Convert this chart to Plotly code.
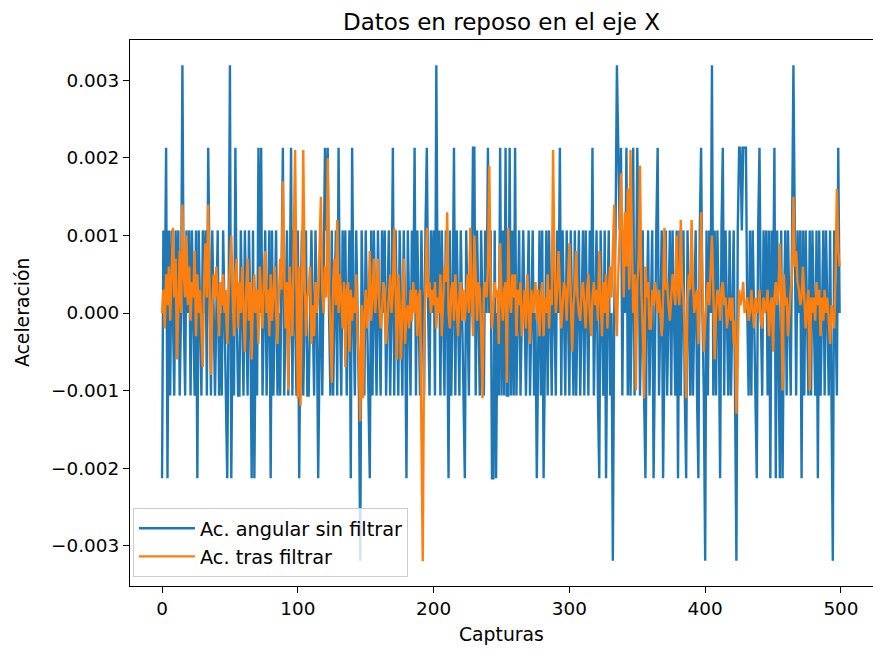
import plotly.graph_objects as go

TITLE = "Datos en reposo en el eje X"
X_LABEL = "Capturas"
Y_LABEL = "Aceleración"
NAME_RAW = "Ac. angular sin filtrar"
NAME_FILT = "Ac. tras filtrar"

# quantisation step of the raw sensor signal
RAW_STEP = 0.0010652
# raw signal, in sensor steps
raw_steps = [
    -2,1,0,2,-2,1,-1,1,0,-1,1,0,1,-1,0,3,0,-1,1,0,
    1,-1,1,0,-1,1,-2,1,0,-1,1,0,1,-1,2,0,-1,1,0,-1,
    0,1,-1,0,-1,1,0,-1,-2,0,3,-2,0,-1,2,0,-1,-1,1,0,
    -1,1,0,-1,1,0,-2,1,-2,0,-1,2,0,2,-1,0,1,-1,0,1,
    -2,1,-1,0,1,-1,0,-1,1,2,-1,0,1,-1,0,2,-1,1,0,-1,
    1,-2,0,1,-1,0,1,-1,-1,0,1,0,-1,1,0,-2,0,1,-1,1,
    2,1,2,0,-1,1,-1,0,1,-1,2,0,-1,1,0,1,-1,0,1,-2,
    2,0,-1,1,0,-1,-3,1,0,-1,1,0,-1,-2,1,-1,1,0,-1,1,
    0,-1,1,0,1,-1,0,1,-1,0,2,-1,1,0,-1,1,0,-1,1,0,
    -2,1,0,-1,1,0,2,-1,1,0,-1,1,0,-1,1,2,0,-1,1,0,
    1,-1,3,0,1,-1,1,0,-1,1,0,-2,1,-1,0,2,-1,1,0,-1,
    1,0,-1,-2,1,0,-1,1,0,2,2,-1,1,0,-1,1,0,-1,1,0,
    2,0,1,-2,-2,1,-2,0,-1,2,-1,1,-1,2,-1,-1,2,-1,1,-1,
    2,-1,0,1,-1,0,1,0,-1,0,1,-1,0,1,-1,0,-2,0,1,-1,
    1,-2,0,1,-1,1,0,-1,1,0,-1,1,0,2,-1,1,0,-1,1,0,
    -1,1,0,-1,1,-1,0,1,-1,0,1,-1,1,0,-1,1,0,2,-1,0,
    1,-1,-2,1,0,-1,1,-2,0,1,-1,0,-3,0,1,3,2,1,2,-1,
    1,0,2,-1,1,-1,0,2,-1,0,2,1,-1,0,1,-1,-2,0,1,-1,
    0,1,-2,0,1,2,-1,0,1,-2,0,1,-1,0,1,-1,1,0,-1,1,
    -2,1,-1,0,1,-1,-2,1,0,-1,1,-1,0,1,-1,-2,1,2,0,-1,
    -3,1,-1,1,0,3,-1,1,-1,1,0,-2,1,2,-1,1,0,-1,1,-1,
    0,1,-1,-3,1,2,2,1,2,2,2,0,-1,1,-1,1,0,-1,-2,1,
    2,0,-1,1,0,1,-1,1,-2,1,0,2,-2,1,-1,-2,1,-2,0,1,
    -1,1,0,-1,1,3,1,-1,1,0,1,-2,1,-1,1,0,-1,1,-1,1,
    0,-1,1,-2,1,-1,0,1,-1,1,0,-1,1,-1,-3,1,0,-1,2,0,
]

# filtered signal, in units of 1e-4
filt_e4 = [
    0,3,-2,5,1,6,-1,4,11,2,7,-6,3,8,0,14,5,2,10,1,
    6,-1,4,2,8,-3,5,0,3,-2,-7,4,9,2,14,3,-8,1,5,2,
    6,2,-3,4,1,5,0,3,-4,2,6,10,3,-3,5,7,-2,4,0,6,
    1,-5,3,7,-1,4,-6,2,5,0,3,-4,6,1,-2,4,8,0,3,-3,
    5,-1,3,6,0,-4,2,7,3,17,5,-2,4,-10,6,2,-3,9,21,4,
    -11,6,-12,3,21,5,-3,2,3,6,-4,1,-3,4,0,2,8,15,3,0,
    6,2,20,3,-2,-9,4,7,1,12,0,5,2,-2,4,-7,3,4,-5,3,
    -1,2,0,5,-3,-6,-14,1,-11,0,3,-2,1,8,-1,2,7,0,3,7,
    1,-2,0,4,3,-4,-1,2,5,0,3,11,2,-6,5,1,-6,2,7,-4,
    0,1,-2,3,-1,4,0,3,-3,2,3,-15,-32,-4,5,11,2,4,0,3,
    1,4,-2,2,0,5,-3,2,6,4,13,0,-2,3,4,-1,5,1,-3,2,
    4,-1,3,-1,2,5,0,11,2,-3,10,3,-1,4,3,-2,-11,3,4,2,
    6,19,3,-2,1,4,2,3,-4,9,2,-1,3,4,-9,11,2,0,5,2,
    5,-3,3,1,4,-3,0,3,-2,5,1,-4,3,0,2,4,-1,3,-3,2,
    4,-3,2,0,5,-2,3,1,21,6,0,3,8,2,-2,1,4,3,-1,4,
    9,2,-5,1,3,8,2,0,-1,3,4,1,-2,3,5,0,-3,2,4,1,
    3,-1,8,2,-3,4,0,5,-2,3,6,2,8,14,1,-3,5,10,18,7,
    2,13,6,16,3,21,8,0,5,-10,4,6,19,3,-2,-11,6,2,4,-2,
    -2,3,1,4,2,0,3,-1,-3,2,11,3,4,1,-1,2,5,3,1,10,
    3,1,12,4,2,-3,-11,2,5,3,12,4,0,2,3,-4,2,13,5,-5,
    -1,2,4,1,6,10,3,-6,0,3,2,-1,3,4,1,2,-2,0,2,-1,
    2,-4,-1,-13,-2,3,1,2,4,0,1,2,-1,0,3,1,-2,2,0,1,
    3,-1,-2,2,0,1,3,-3,1,2,-5,2,4,1,3,9,2,-10,5,1,
    2,-3,1,3,5,15,6,8,4,3,1,2,6,2,-2,1,3,-10,2,0,
    2,-1,4,1,3,-3,2,-1,3,0,2,-1,-4,1,0,-2,5,16,8,6,
]

x_ticks = [0, 100, 200, 300, 400, 500]
y_ticks = [-0.003, -0.002, -0.001, 0.0, 0.001, 0.002, 0.003]
y_tick_text = ["\u22120.003", "\u22120.002", "\u22120.001", "0.000", "0.001", "0.002", "0.003"]

raw = [s * RAW_STEP for s in raw_steps]
filt = [v * 1e-4 for v in filt_e4]
x_raw = list(range(len(raw)))
x_filt = list(range(len(filt)))

FONT = "DejaVu Sans"

fig = go.Figure()
fig.add_trace(go.Scatter(x=x_raw, y=raw, mode="lines", name=NAME_RAW,
                         line=dict(color="#1f77b4", width=2.4)))
fig.add_trace(go.Scatter(x=x_filt, y=filt, mode="lines", name=NAME_FILT,
                         line=dict(color="#ff7f0e", width=2.4)))

axis_common = dict(showline=True, linecolor="black", linewidth=1.4,
                   ticks="outside", ticklen=6, tickwidth=1.4, tickcolor="black",
                   showgrid=False, zeroline=False,
                   tickfont=dict(family=FONT, size=18.4, color="black"))

fig.update_layout(
    width=873, height=653,
    margin=dict(l=130, r=0, t=40, b=67),
    paper_bgcolor="white", plot_bgcolor="white",
    font=dict(family=FONT, color="black"),
    title=dict(text=TITLE, x=0.5, xref="paper", y=1 - 22 / 653, yref="container",
               xanchor="center", yanchor="middle",
               font=dict(family=FONT, size=23, color="black")),
    xaxis=dict(range=[-23.6, 523.6], tickvals=x_ticks, mirror=True, **axis_common),
    yaxis=dict(range=[-0.00352, 0.00352], tickvals=y_ticks, ticktext=y_tick_text,
               mirror=False, **axis_common),
    legend=dict(x=0.004, y=0.016, xanchor="left", yanchor="bottom",
                bgcolor="rgba(255,255,255,0.8)", bordercolor="#cccccc", borderwidth=1,
                font=dict(family=FONT, size=19.3, color="black"),
                tracegroupgap=0, itemwidth=56),
    showlegend=True,
    annotations=[
        dict(text=X_LABEL, xref="paper", yref="paper", x=0.5, y=-(634 - 586) / 546,
             xanchor="center", yanchor="middle", showarrow=False,
             font=dict(family=FONT, size=18.8, color="black")),
        dict(text=Y_LABEL, xref="paper", yref="paper", x=(22 - 130) / 743, y=0.5,
             xanchor="center", yanchor="middle", textangle=-90, showarrow=False,
             font=dict(family=FONT, size=18.8, color="black")),
    ],
)

fig.write_html("out.html")
